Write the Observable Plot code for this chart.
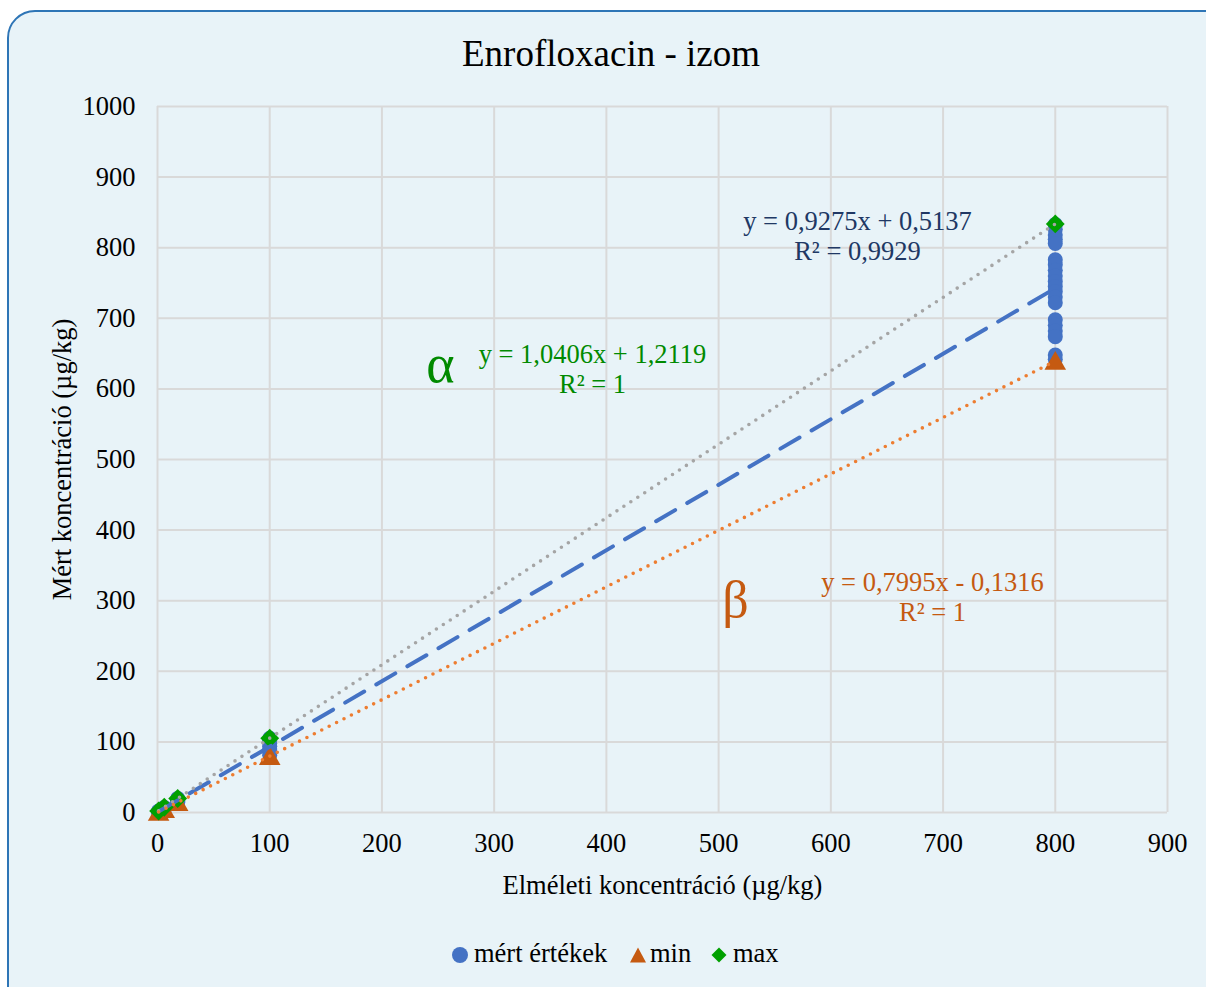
<!DOCTYPE html>
<html>
<head>
<meta charset="utf-8">
<script src="https://cdn.jsdelivr.net/npm/d3@7"></script>
<script src="https://cdn.jsdelivr.net/npm/@observablehq/plot@0.6"></script>
<style>
  html, body { margin: 0; padding: 0; width: 1206px; height: 987px; overflow: hidden; background: #ffffff; }
  body { position: relative; font-family: "Liberation Serif", "Times New Roman", serif; color: #000; }
  #panel { position: absolute; left: 7px; top: 10px; width: 1240px; height: 1020px; box-sizing: border-box;
           border: 2px solid #2e75b6; border-radius: 28px; background: #e8f3f8; }
  #title { position: absolute; left: 0; top: 35px; width: 1222px; text-align: center; font-size: 37px; line-height: 1; }
  #chart { position: absolute; left: 0; top: 0; }
  .leg { position: absolute; top: 940px; font-size: 26.5px; line-height: 1; white-space: nowrap; }
  .sym { position: absolute; }
</style>
</head>
<body>
<div id="panel"></div>
<div id="title">Enrofloxacin - izom</div>
<div id="chart"></div>
<div id="legend"></div>
<script>
// Spiked concentration levels (µg/kg)
const concentrations = [1, 6, 18, 100, 800];

// Measured concentrations at each spiked level
const measured = [
  [0.7, 1.2, 1.8, 2.2],
  [4.8, 5.5, 6.3, 7.2],
  [14.5, 16, 17.5, 19, 20],
  [81, 85, 90, 94, 98, 102, 105],
  [833, 826, 818, 812, 806, 783, 776, 768, 760, 752, 745, 738, 730, 722, 698, 690, 682, 674, 648, 642]
];

// Lower (β) and upper (α) limits at each level
const minValues = [0.7, 4.7, 14.3, 79.8, 639.5];
const maxValues = [2.2, 7.5, 19.9, 105.3, 833.7];

// Linear trendline coefficients: [slope, intercept]
const fitMeasured = [0.9275, 0.5137];
const fitMax = [1.0406, 1.2119];
const fitMin = [0.7995, -0.1316];
const r2Measured = "0,9929";
const r2Max = "1";
const r2Min = "1";

const xTicks = [0, 100, 200, 300, 400, 500, 600, 700, 800, 900];
const yTicks = [0, 100, 200, 300, 400, 500, 600, 700, 800, 900, 1000];

const seriesNames = ["mért értékek", "min", "max"];
const colors = {blue: "#4472c4", orange: "#c55a11", green: "#00a000"};

// Tidy tables built from the arrays above
const measuredRows = concentrations.flatMap((x, i) => measured[i].map(y => ({x, y})));
const minRows = concentrations.map((x, i) => ({x, y: minValues[i]}));
const maxRows = concentrations.map((x, i) => ({x, y: maxValues[i]}));

const xSpan = d3.extent(concentrations);
const trend = ([a, b]) => xSpan.map(x => ({x, y: a * x + b}));
const num = v => Math.abs(v).toFixed(4).replace(".", ",");
const equation = ([a, b], r2) => `y = ${num(a)}x ${b < 0 ? "-" : "+"} ${num(b)}\nR² = ${r2}`;

const serif = '"Liberation Serif", "Times New Roman", serif';
const plain = d => String(d);

const chart = Plot.plot({
  width: 1206,
  height: 987,
  marginTop: 106,
  marginBottom: 175,
  marginLeft: 157,
  marginRight: 39,
  x: {domain: [0, 900]},
  y: {domain: [0, 1000]},
  style: {background: "transparent", fontFamily: serif, fontSize: "26.5px", color: "#000", overflow: "visible"},
  marks: [
    Plot.gridX(xTicks, {stroke: "#d9d9d9", strokeOpacity: 1, strokeWidth: 2}),
    Plot.gridY(yTicks, {stroke: "#d9d9d9", strokeOpacity: 1, strokeWidth: 2}),
    Plot.axisX(xTicks, {tickSize: 0, tickPadding: 21, fontSize: 26.5, fill: "#000", label: null, tickFormat: plain}),
    Plot.axisY(yTicks, {tickSize: 0, tickPadding: 22, fontSize: 26.5, fill: "#000", label: null, tickFormat: plain}),

    Plot.dot(measuredRows, {x: "x", y: "y", r: 7.5, fill: colors.blue, symbol: "circle"}),
    Plot.dot(minRows, {x: "x", y: "y", r: 8, dy: 2.5, fill: colors.orange, symbol: "triangle"}),
    Plot.dot(maxRows, {x: "x", y: "y", r: 8.5, fill: colors.green, symbol: "diamond2"}),

    Plot.line(trend(fitMeasured), {x: "x", y: "y", stroke: colors.blue, strokeWidth: 4, strokeDasharray: "22,14", strokeLinecap: "round"}),
    Plot.line(trend(fitMax), {x: "x", y: "y", stroke: "#a5a5a5", strokeWidth: 3.6, strokeDasharray: "0,8.3", strokeLinecap: "round"}),
    Plot.line(trend(fitMin), {x: "x", y: "y", stroke: "#ed7d31", strokeWidth: 3.6, strokeDasharray: "0,8.3", strokeLinecap: "round"}),

    Plot.text([equation(fitMeasured, r2Measured)], {frameAnchor: "top-left", dx: 700, dy: 129, textAnchor: "middle", lineAnchor: "middle", lineHeight: 1.13, fontSize: 26.5, fill: "#203864"}),
    Plot.text([equation(fitMax, r2Max)], {frameAnchor: "top-left", dx: 435, dy: 262, textAnchor: "middle", lineAnchor: "middle", lineHeight: 1.13, fontSize: 26.5, fill: "#008a00"}),
    Plot.text([equation(fitMin, r2Min)], {frameAnchor: "top-left", dx: 775, dy: 490, textAnchor: "middle", lineAnchor: "middle", lineHeight: 1.13, fontSize: 26.5, fill: "#c55a11"}),
    Plot.text(["α"], {frameAnchor: "top-left", dx: 283, dy: 258, textAnchor: "middle", lineAnchor: "middle", fontSize: 54, fill: "#008a00"}),
    Plot.text(["β"], {frameAnchor: "top-left", dx: 578, dy: 494, textAnchor: "middle", lineAnchor: "middle", fontSize: 52, fill: "#c55a11"}),

    Plot.text(["Elméleti koncentráció (µg/kg)"], {frameAnchor: "bottom", dy: 73, textAnchor: "middle", lineAnchor: "middle", fontSize: 26.5, fill: "#000"}),
    Plot.text(["Mért koncentráció (µg/kg)"], {frameAnchor: "left", dx: -95, rotate: -90, textAnchor: "middle", lineAnchor: "middle", fontSize: 26.5, fill: "#000"})
  ]
});
document.getElementById("chart").appendChild(chart);

// Legend below the chart
const legend = document.getElementById("legend");
const legendItems = [
  {name: seriesNames[0], left: 452, textLeft: 474, shape: `<circle cx="8" cy="8" r="8" fill="${colors.blue}"/>`},
  {name: seriesNames[1], left: 630, textLeft: 650, shape: `<path d="M8 0.5 L16 15.5 L0 15.5 Z" fill="${colors.orange}"/>`},
  {name: seriesNames[2], left: 711, textLeft: 733, shape: `<path d="M8 0.5 L15.5 8 L8 15.5 L0.5 8 Z" fill="${colors.green}"/>`}
];
for (const item of legendItems) {
  const s = document.createElement("div");
  s.className = "sym";
  s.style.left = item.left + "px";
  s.style.top = "947px";
  s.innerHTML = `<svg width="16" height="16" viewBox="0 0 16 16">${item.shape}</svg>`;
  legend.appendChild(s);
  const t = document.createElement("div");
  t.className = "leg";
  t.style.left = item.textLeft + "px";
  t.textContent = item.name;
  legend.appendChild(t);
}
</script>
</body>
</html>
